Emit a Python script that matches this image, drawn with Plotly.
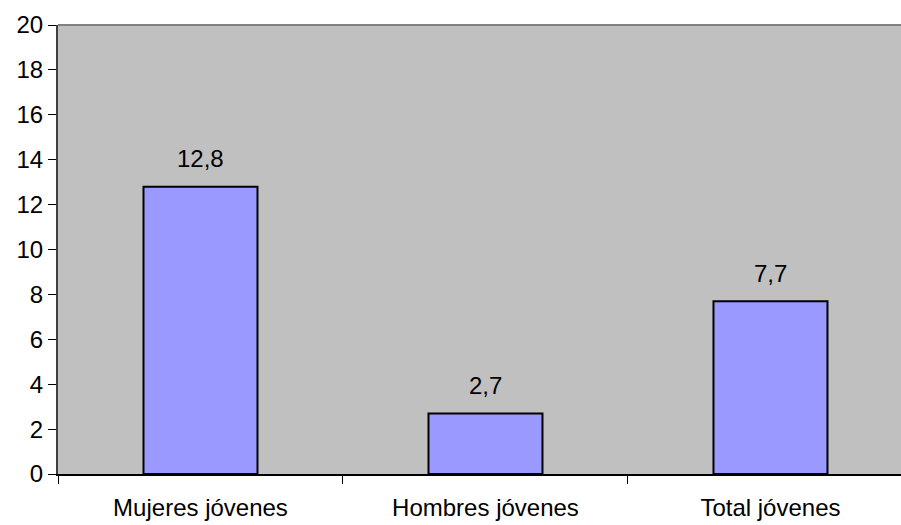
import plotly.graph_objects as go

categories = ["Mujeres jóvenes", "Hombres jóvenes", "Total jóvenes"]
values = [12.8, 2.7, 7.7]
y_ticks = [0, 2, 4, 6, 8, 10, 12, 14, 16, 18, 20]

FONT = "Liberation Sans, Arial, sans-serif"
FS = 24

fig = go.Figure()
fig.add_trace(go.Bar(
    x=categories,
    y=values,
    width=0.4,
    marker=dict(color="#9999FF", line=dict(color="#000000", width=2)),
    hoverinfo="skip",
))

for c, v in zip(categories, values):
    fig.add_annotation(
        x=c, y=v, text=f"{v:.1f}".replace(".", ","),
        showarrow=False, yshift=28, yanchor="middle",
        font=dict(family=FONT, size=FS, color="#000000"),
    )

fig.update_layout(
    width=901, height=525,
    margin=dict(l=58, r=0, t=25, b=51, autoexpand=False),
    paper_bgcolor="#FFFFFF",
    plot_bgcolor="#C0C0C0",
    showlegend=False,
    separators=",.",
    font=dict(family=FONT, size=FS, color="#000000"),
)
fig.update_xaxes(
    type="category",
    range=[-0.5, 2.458],
    tickson="boundaries",
    ticks="outside", ticklen=8, tickwidth=1, tickcolor="#000000",
    ticklabelstandoff=11,
    showline=True, linecolor="#000000", linewidth=2,
    showgrid=False, zeroline=False,
    tickfont=dict(family=FONT, size=FS),
)
fig.update_yaxes(
    range=[0, 20],
    tickmode="array",
    tickvals=y_ticks,
    ticks="outside", ticklen=8, tickwidth=1, tickcolor="#000000",
    showline=True, linecolor="#404040", linewidth=2,
    showgrid=False, zeroline=False,
    tickfont=dict(family=FONT, size=FS),
)
fig.add_shape(type="line", xref="paper", yref="paper", x0=0, x1=1, y0=1, y1=1,
              line=dict(color="#808080", width=2))

fig.write_html(
    "out.html",
    config={"displayModeBar": False},
    post_script="document.body.style.margin='0';document.body.style.overflow='hidden';",
)
